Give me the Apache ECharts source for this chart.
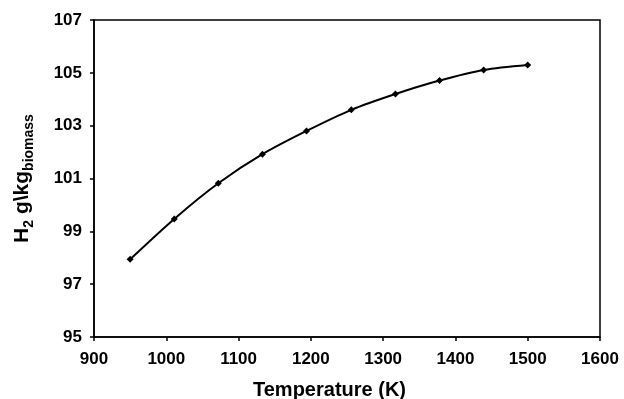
<!DOCTYPE html>
<html>
<head>
<meta charset="utf-8">
<script src="https://cdn.jsdelivr.net/npm/echarts@6/dist/echarts.min.js"></script>
<style>html,body{margin:0;padding:0;background:#fff;}#c{width:624px;height:399px;}</style>
</head>
<body>
<div id="c"></div>
<script>
const temperatures = [950, 1011, 1072, 1133, 1194, 1256, 1317, 1378, 1439, 1500];
const h2Yield = [97.94, 99.47, 100.82, 101.92, 102.80, 103.60, 104.20, 104.71, 105.11, 105.30];
const xTicks = [900, 1000, 1100, 1200, 1300, 1400, 1500, 1600];
const yTicks = [95, 97, 99, 101, 103, 105, 107];

const font = 'Liberation Sans, Arial, sans-serif';
const chart = echarts.init(document.getElementById('c'), null, {renderer: 'canvas'});
chart.setOption({
  animation: false,
  backgroundColor: '#fff',
  grid: {left: 94, right: 24, top: 20, bottom: 62, show: true, borderColor: '#000', borderWidth: 1.5, outerBoundsMode: 'none', containLabel: false},
  xAxis: {
    type: 'value', min: xTicks[0], max: xTicks[xTicks.length - 1], interval: 100,
    name: 'Temperature (K)', nameLocation: 'middle', nameGap: 43,
    nameTextStyle: {fontFamily: font, fontWeight: 'bold', fontSize: 20, color: '#000', padding: [0, 35, 0, 0]},
    axisLine: {show: true, lineStyle: {color: '#000', width: 1.5}},
    axisTick: {show: true, length: 4, inside: false, lineStyle: {color: '#000', width: 1.5}},
    axisLabel: {fontFamily: font, fontWeight: 'bold', fontSize: 17, color: '#000', margin: 14, formatter: v => String(v)},
    splitLine: {show: false}
  },
  yAxis: {
    type: 'value', min: yTicks[0], max: yTicks[yTicks.length - 1], interval: 2,
    name: '{a|H}{s|2}{a| g\\kg}{s|biomass}', nameLocation: 'middle', nameGap: 58,
    nameTextStyle: {
      fontFamily: font, fontWeight: 'bold', color: '#000',
      rich: {
        a: {fontFamily: font, fontWeight: 'bold', fontSize: 21, color: '#000', lineHeight: 28, verticalAlign: 'middle'},
        s: {fontFamily: font, fontWeight: 'bold', fontSize: 14, color: '#000', lineHeight: 28, verticalAlign: 'bottom', padding: [12, 0, 0, 0]}
      }
    },
    axisLine: {show: true, lineStyle: {color: '#000', width: 1.5}},
    axisTick: {show: true, length: 4, inside: false, lineStyle: {color: '#000', width: 1.5}},
    axisLabel: {fontFamily: font, fontWeight: 'bold', fontSize: 17, color: '#000', margin: 12, formatter: v => String(v)},
    splitLine: {show: false}
  },
  series: [{
    type: 'line',
    data: temperatures.map((t, i) => [t, h2Yield[i]]),
    smooth: 0.3,
    symbol: 'diamond', symbolSize: 7,
    lineStyle: {color: '#000', width: 2},
    itemStyle: {color: '#000'}
  }]
});
</script>
</body>
</html>
